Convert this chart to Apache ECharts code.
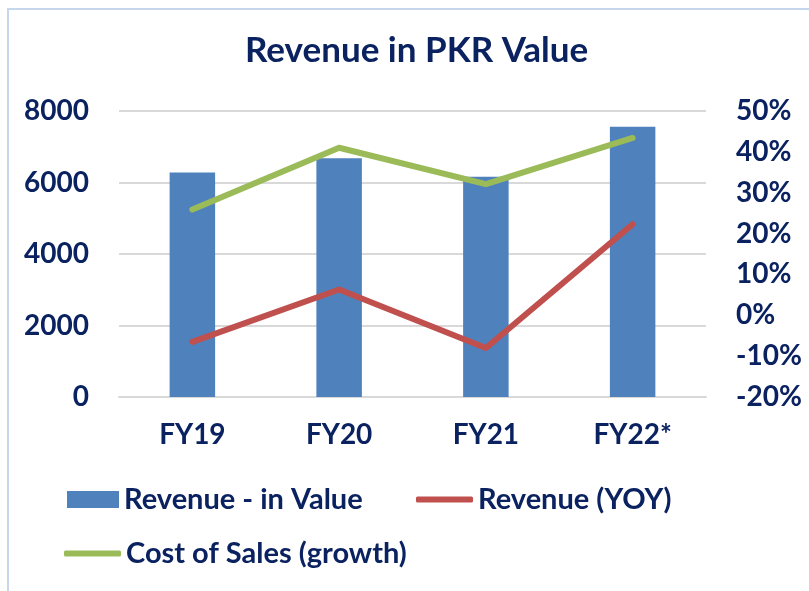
<!DOCTYPE html>
<html>
<head>
<meta charset="utf-8">
<script src="https://cdn.jsdelivr.net/npm/echarts@6/dist/echarts.min.js"></script>
<style>
  html, body { margin: 0; padding: 0; background: #ffffff; }
  #wrap { position: relative; width: 809px; height: 591px; overflow: hidden; }
  #chart { position: absolute; left: 0; top: 0; width: 809px; height: 591px; }
  #frame { position: absolute; left: 7px; top: 8px; width: 900px; height: 700px;
           border-left: 2px solid #c6d6ec; border-top: 2px solid #c6d6ec; pointer-events: none; }
</style>
</head>
<body>
<div id="wrap">
  <div id="chart"></div>
  <div id="frame"></div>
</div>
<script>
const categories = ['FY19', 'FY20', 'FY21', 'FY22*'];
const revenueValue = [6280, 6680, 6160, 7560];
const revenueYoY = [-6.5, 6.3, -8.0, 22.3];
const costOfSalesGrowth = [25.9, 41.0, 32.1, 43.4];
const leftTicks = { min: 0, max: 8000, interval: 2000 };
const rightTicks = { min: -20, max: 50, interval: 10 };

const navy = '#0b2260';
const font = 'Lato';
const chart = echarts.init(document.getElementById('chart'));

const legendText = { color: navy, fontSize: 29, fontWeight: 'bold', fontFamily: font };
function legendFor(name, left, top, isLine) {
  return {
    data: [name], left: left, top: top, padding: 0,
    itemWidth: isLine ? 57 : 52, itemHeight: isLine ? 6 : 17, itemGap: 0,
    icon: isLine ? 'roundRect' : 'rect',
    textStyle: legendText, selectedMode: false
  };
}

chart.setOption({
  animation: false,
  title: {
    text: 'Revenue in PKR Value',
    left: 240, top: 28,
    textStyle: { color: navy, fontSize: 35, fontWeight: 'bold', fontFamily: font }
  },
  grid: { left: 119, right: 103, top: 111, bottom: 194 },
  legend: [
    legendFor('Revenue - in Value', 67, 485, false),
    legendFor('Revenue (YOY)', 416, 485, true),
    legendFor('Cost of Sales (growth)', 64, 539, true)
  ],
  xAxis: {
    type: 'category',
    data: categories,
    axisLine: { show: true, lineStyle: { color: '#d9d9d9', width: 2 } },
    axisTick: { show: false },
    axisLabel: { margin: 24, color: navy, fontSize: 28, fontWeight: 'bold', fontFamily: font }
  },
  yAxis: [
    {
      type: 'value', min: leftTicks.min, max: leftTicks.max, interval: leftTicks.interval,
      axisLine: { show: false }, axisTick: { show: false },
      splitLine: { lineStyle: { color: '#d9d9d9', width: 2 } },
      axisLabel: { margin: 30, formatter: function (v) { return String(v); },
                   color: navy, fontSize: 28, fontWeight: 'bold', fontFamily: font }
    },
    {
      type: 'value', min: rightTicks.min, max: rightTicks.max, interval: rightTicks.interval,
      axisLine: { show: false }, axisTick: { show: false },
      splitLine: { show: false },
      axisLabel: { margin: 30, formatter: '{value}%', color: navy, fontSize: 28, fontWeight: 'bold', fontFamily: font }
    }
  ],
  series: [
    {
      name: 'Revenue - in Value', type: 'bar', data: revenueValue,
      yAxisIndex: 0, barWidth: '31%',
      itemStyle: { color: '#4f81bd' }
    },
    {
      name: 'Revenue (YOY)', type: 'line', data: revenueYoY,
      yAxisIndex: 1, symbol: 'none',
      lineStyle: { color: '#c0504d', width: 6, cap: 'round', join: 'round' },
      itemStyle: { color: '#c0504d' }
    },
    {
      name: 'Cost of Sales (growth)', type: 'line', data: costOfSalesGrowth,
      yAxisIndex: 1, symbol: 'none',
      lineStyle: { color: '#9bbb59', width: 6, cap: 'round', join: 'round' },
      itemStyle: { color: '#9bbb59' }
    }
  ]
});
</script>
</body>
</html>
